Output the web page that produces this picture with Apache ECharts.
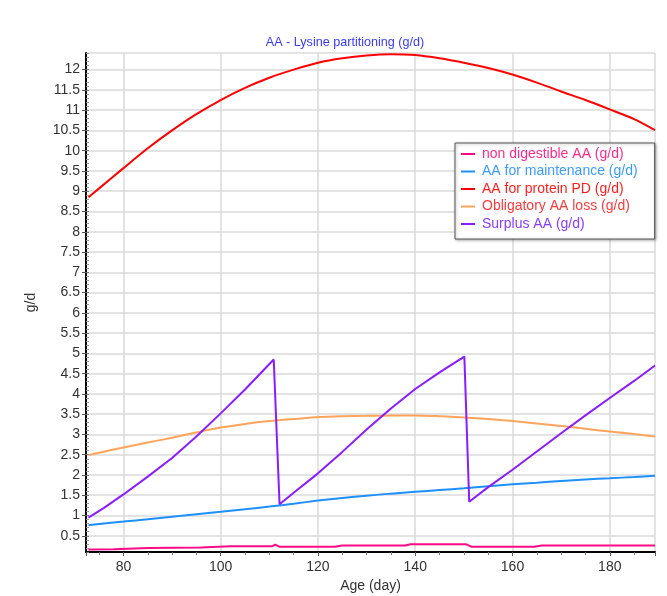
<!DOCTYPE html>
<html>
<head>
<meta charset="utf-8">
<script src="https://cdn.jsdelivr.net/npm/echarts@6/dist/echarts.min.js"></script>
<style>
  html, body { margin: 0; padding: 0; background: #ffffff; }
  #chart { width: 667px; height: 596px; }
</style>
</head>
<body>
<div id="chart"></div>
<script>
// ---- Data ----
const titleText = 'AA - Lysine partitioning (g/d)';
const xName = 'Age (day)';
const yName = 'g/d';
const seriesNames = ['non digestible AA (g/d)', 'AA for maintenance (g/d)', 'AA for protein PD (g/d)', 'Obligatory AA loss (g/d)', 'Surplus AA (g/d)'];

const days = [72.8, 75, 80, 85, 90, 95, 100, 105, 110, 115, 120, 125, 130, 135, 140, 145, 150, 155, 160, 165, 170, 175, 180, 185, 189.3];
const proteinPD = [8.85, 9.07, 9.57, 10.06, 10.5, 10.9, 11.25, 11.55, 11.8, 12.0, 12.17, 12.28, 12.35, 12.38, 12.36, 12.28, 12.17, 12.04, 11.88, 11.68, 11.46, 11.25, 11.02, 10.78, 10.51];
const obligatoryLoss = [2.49, 2.55, 2.68, 2.8, 2.92, 3.05, 3.17, 3.26, 3.33, 3.38, 3.43, 3.45, 3.46, 3.47, 3.47, 3.45, 3.42, 3.38, 3.33, 3.27, 3.21, 3.14, 3.07, 3.01, 2.95];
const maintenance = [0.76, 0.79, 0.85, 0.91, 0.97, 1.03, 1.09, 1.155, 1.22, 1.29, 1.37, 1.435, 1.49, 1.54, 1.585, 1.63, 1.67, 1.72, 1.77, 1.81, 1.85, 1.89, 1.92, 1.95, 1.98];

const nonDigDays = [72.8, 78, 85, 96, 102, 110.5, 111.2, 112, 123.5, 125, 138, 139, 150.5, 151.5, 164.5, 166, 189.3];
const nonDigVals = [0.16, 0.17, 0.2, 0.21, 0.24, 0.24, 0.28, 0.23, 0.23, 0.26, 0.26, 0.29, 0.29, 0.23, 0.23, 0.26, 0.26];

const surplusDays = [72.8, 76, 80, 85, 90, 95, 100, 105, 110.9, 112.1, 115, 120, 125, 130, 135, 140, 145, 150.1, 151.1, 155, 160, 165, 170, 175, 180, 185, 189.3];
const surplusVals = [0.95, 1.19, 1.52, 1.96, 2.42, 2.95, 3.52, 4.11, 4.85, 1.28, 1.56, 2.04, 2.57, 3.12, 3.64, 4.12, 4.53, 4.92, 1.34, 1.70, 2.13, 2.58, 3.03, 3.47, 3.9, 4.32, 4.7];

const xMin = 72.3, xMax = 189.3, xStep = 20;
const yMin = 0.1, yMax = 12.41, yStep = 0.5;

// ---- Styling ----
const lineColors = ['#ff0a84', '#1e8fff', '#ff0000', '#ffa45a', '#8a1cff'];
const legendTextColors = ['#ff2a8a', '#3a9cff', '#ff1e1e', '#ff3a3a', '#8a3cff'];
const smoothness = [0, 0.25, 0.25, 0.25, 0];
const FONT = '"Liberation Sans", Arial, sans-serif';

function pairs(xs, ys) { return xs.map((x, i) => [x, ys[i]]); }

const seriesData = [
  pairs(nonDigDays, nonDigVals),
  pairs(days, maintenance),
  pairs(days, proteinPD),
  pairs(days, obligatoryLoss),
  pairs(surplusDays, surplusVals)
];

const chart = echarts.init(document.getElementById('chart'), null, { renderer: 'canvas' });

const option = {
  animation: false,
  backgroundColor: '#ffffff',
  title: {
    text: titleText,
    left: 340,
    top: 31,
    textAlign: 'center',
    textStyle: { color: '#3a3aff', fontSize: 12.6, fontWeight: 'normal', fontFamily: FONT }
  },
  grid: { left: 86, right: 12, top: 53, bottom: 44, containLabel: false, outerBoundsMode: 'none' },
  legend: {
    orient: 'vertical',
    left: 455,
    top: 143,
    padding: [4, 17, 8, 6],
    itemGap: 3.5,
    itemWidth: 14,
    itemHeight: 2,
    icon: 'rect',
    backgroundColor: '#ffffff',
    borderColor: '#555555',
    borderWidth: 1,
    shadowBlur: 3,
    shadowOffsetX: 1,
    shadowOffsetY: 1,
    shadowColor: 'rgba(0,0,0,0.3)',
    textStyle: { fontSize: 14, fontFamily: FONT, lineHeight: 14, padding: [0, 0, 0, 2] },
    data: seriesNames.map((n, i) => ({ name: n, textStyle: { color: legendTextColors[i] } }))
  },
  xAxis: {
    type: 'value',
    min: xMin,
    max: xMax,
    splitNumber: 6,
    minInterval: xStep,
    maxInterval: xStep,
    name: xName,
    nameLocation: 'middle',
    nameGap: 27,
    nameTextStyle: { fontSize: 14, color: '#333333', fontFamily: FONT },
    axisLine: { onZero: false, lineStyle: { color: '#000000', width: 2 } },
    axisTick: { show: true, length: 4, lineStyle: { color: '#555555' } },
    minorTick: { show: true, splitNumber: 4, length: 3, lineStyle: { color: '#777777' } },
    axisLabel: { fontSize: 14, color: '#333333', fontFamily: FONT, margin: 8, showMinLabel: false, showMaxLabel: false },
    splitLine: { show: true, lineStyle: { color: '#dadada', width: 1.5 } }
  },
  yAxis: [{
    type: 'value',
    min: yMin,
    max: yMax,
    splitNumber: 24,
    minInterval: yStep,
    maxInterval: yStep,
    name: yName,
    nameLocation: 'middle',
    nameGap: 48,
    nameRotate: 90,
    nameTextStyle: { fontSize: 14, color: '#333333', fontFamily: FONT },
    axisLine: { onZero: false, lineStyle: { color: '#000000', width: 2 } },
    axisTick: { show: true, length: 4, lineStyle: { color: '#555555' } },
    axisLabel: { fontSize: 14, color: '#333333', fontFamily: FONT, margin: 6, showMinLabel: false, showMaxLabel: false },
    splitLine: { show: true, lineStyle: { color: '#dadada', width: 1.5 } }
  }, {
    type: 'value',
    position: 'left',
    min: yMin,
    max: yMax,
    splitNumber: 24,
    minInterval: yStep,
    maxInterval: yStep,
    axisLine: { show: false, onZero: false },
    axisTick: { show: true, inside: true, length: 3, lineStyle: { color: '#777777' } },
    minorTick: { show: true, splitNumber: 5, length: 3, lineStyle: { color: '#999999' } },
    axisLabel: { show: false },
    splitLine: { show: false }
  }],
  series: seriesNames.map((n, i) => ({
    name: n,
    type: 'line',
    data: seriesData[i],
    showSymbol: false,
    symbol: 'none',
    smooth: smoothness[i],
    color: lineColors[i],
    lineStyle: { color: lineColors[i], width: 2 },
    itemStyle: { color: lineColors[i] },
    z: 2 + i
  }))
};

chart.setOption(option);
</script>
</body>
</html>
